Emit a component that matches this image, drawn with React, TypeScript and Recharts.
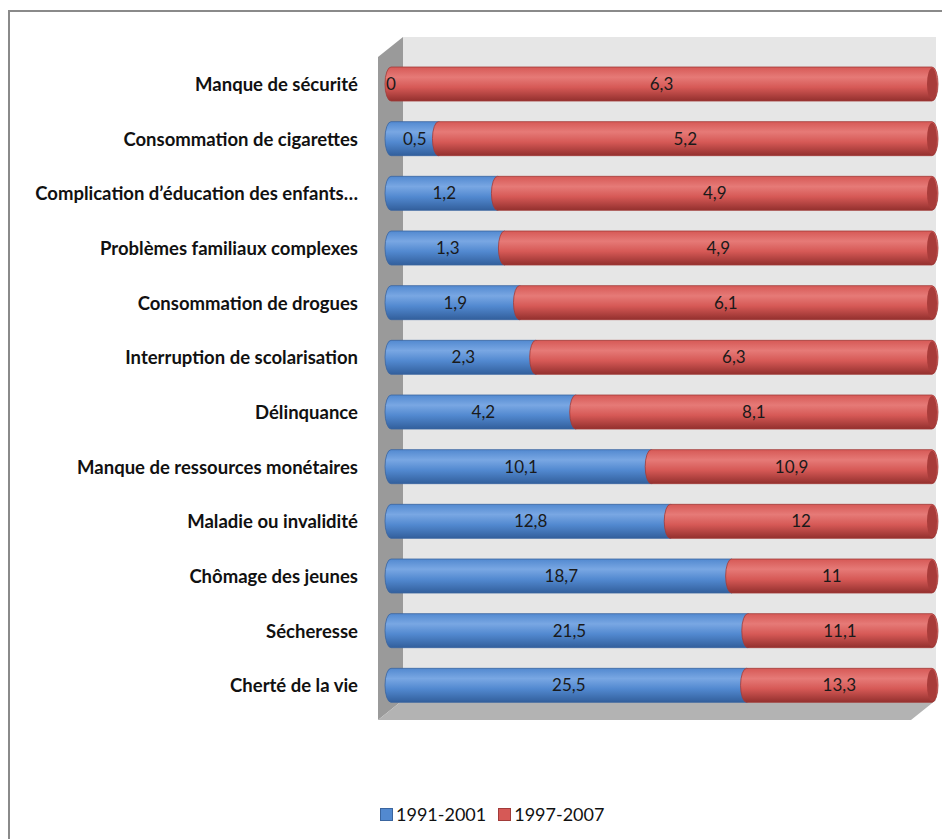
import { BarChart, Bar, XAxis, YAxis, LabelList } from "recharts";

const categories = [
  "Manque de sécurité",
  "Consommation de cigarettes",
  "Complication d’éducation des enfants…",
  "Problèmes familiaux complexes",
  "Consommation de drogues",
  "Interruption de scolarisation",
  "Délinquance",
  "Manque de ressources monétaires",
  "Maladie ou invalidité",
  "Chômage des jeunes",
  "Sécheresse",
  "Cherté de la vie",
];
const period1 = [0, 0.5, 1.2, 1.3, 1.9, 2.3, 4.2, 10.1, 12.8, 18.7, 21.5, 25.5];
const period2 = [6.3, 5.2, 4.9, 4.9, 6.1, 6.3, 8.1, 10.9, 12, 11, 11.1, 13.3];
const seriesNames = ["1991-2001", "1997-2007"];

const data = categories.map((name, i) => ({
  name,
  p1: period1[i],
  p2: period2[i],
}));

const W = 942;
const H = 831;
const margin = { top: 49, right: 18, bottom: 126, left: 0 };
const axisWidth = 383;

const font = "Lato, 'Open Sans', sans-serif";
const fmt = (v: any) => String(v).replace(".", ",");

const Cylinder = (props: any) => {
  const { x, y, width, height, fill, cap, stroke } = props;
  if (!width || width <= 0) return null;
  const rx = 6;
  const r = height / 2;
  const d = `M${x},${y} H${x + width} A${rx},${r} 0 0 1 ${x + width},${y + height} H${x} A${rx},${r} 0 0 1 ${x},${y} Z`;
  return (
    <g>
      <path d={d} fill={fill} stroke={stroke} strokeWidth={0.8} />
      <ellipse cx={x + width} cy={y + r} rx={rx - 1} ry={r - 1} fill={cap} />
    </g>
  );
};

// 3D walls behind the plot (chart coordinates)
const Walls = () => {
  const L = axisWidth - 6;
  const T = margin.top;
  const R = W - margin.right;
  const B = H - margin.bottom;
  const dx = 18;
  const dy = 20;
  return (
    <svg width={W} height={H} style={{ position: "absolute", left: 0, top: 0 }}>
      <rect x={L + dx} y={T - dy} width={R - L - dx + 4} height={B - T + 7} fill="#e6e6e6" />
      <polygon
        points={`${L - 7},${T} ${L + dx},${T - dy} ${L + dx},${B - 13} ${L - 7},${B + 7}`}
        fill="#9a9a9a"
      />
      <polygon
        points={`${L - 7},${B + 7} ${L + dx},${B - 13} ${R + 4},${B - 13} ${R - 21},${B + 7}`}
        fill="#b3b3b3"
      />
    </svg>
  );
};

const colors = [
  { light: "#79a7e3", base: "#5289d0", dark: "#325f9c", cap: "#3f6fae", stroke: "#3a659f" },
  { light: "#e67a77", base: "#d65956", dark: "#93302e", cap: "#a83c3a", stroke: "#a13b39" },
];

export default function App() {
  return (
    <div style={{ position: "relative", width: W, height: H, fontFamily: font, overflow: "hidden" }}>
      <Walls />
      <div
        style={{
          position: "absolute",
          left: 0,
          top: 2,
          width: W,
          height: H - 2,
          borderTop: "2px solid #8a8a8a",
          borderLeft: "2px solid #8a8a8a",
          boxSizing: "border-box",
        }}
      />
      <div style={{ position: "absolute", left: 0, top: 0 }}>
        <BarChart
          width={W}
          height={H}
          data={data}
          layout="vertical"
          stackOffset="expand"
          margin={margin}
          barSize={34}
        >
          <defs>
            {colors.map((c, i) => (
              <linearGradient key={i} id={`cyl${i}`} x1="0" y1="0" x2="0" y2="1">
                <stop offset="0%" stopColor={c.base} />
                <stop offset="30%" stopColor={c.light} />
                <stop offset="60%" stopColor={c.base} />
                <stop offset="100%" stopColor={c.dark} />
              </linearGradient>
            ))}
          </defs>
          <XAxis type="number" hide domain={[0, 1]} />
          <YAxis
            type="category"
            dataKey="name"
            width={axisWidth}
            axisLine={false}
            tickLine={false}
            tickMargin={27}
            interval={0}
            tick={{ fill: "#111", fontSize: 18.5, fontWeight: 700, fontFamily: font }}
          />
          {["p1", "p2"].map((key, i) => (
            <Bar
              key={key}
              dataKey={key}
              name={seriesNames[i]}
              stackId="a"
              fill={`url(#cyl${i})`}
              isAnimationActive={false}
              shape={(p: any) => (
                <Cylinder {...p} fill={`url(#cyl${i})`} cap={colors[i].cap} stroke={colors[i].stroke} />
              )}
            >
              <LabelList
                dataKey={key}
                position="center"
                formatter={fmt}
                style={{ fill: "#1a1a1a", fontSize: 17, fontFamily: font }}
              />
            </Bar>
          ))}
        </BarChart>
      </div>
      <div
        style={{
          position: "absolute",
          left: 372,
          top: 795,
          display: "flex",
          gap: 12,
          fontSize: 18,
          color: "#111",
        }}
      >
        {seriesNames.map((n, i) => (
          <div key={n} style={{ display: "flex", alignItems: "center", gap: 3 }}>
            <span
              style={{
                width: 11,
                height: 11,
                background: colors[i].base,
                border: `1px solid ${colors[i].stroke}`,
                display: "inline-block",
              }}
            />
            <span>{n}</span>
          </div>
        ))}
      </div>
    </div>
  );
}
